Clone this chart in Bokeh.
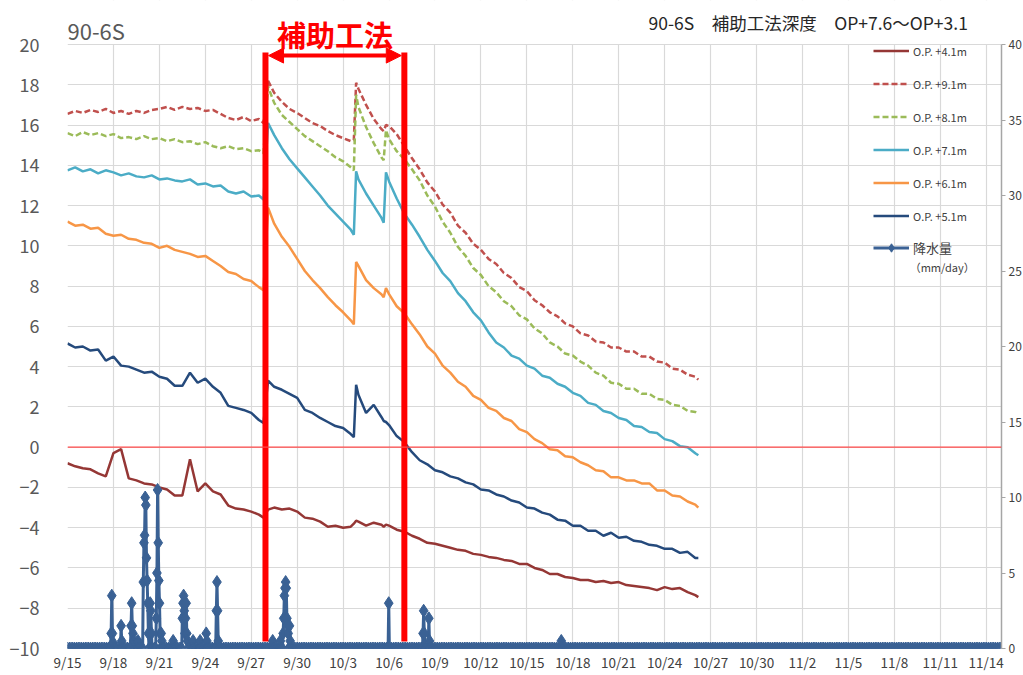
import numpy as np
from bokeh.plotting import figure
from bokeh.models import (Range1d, LinearAxis, FixedTicker, Span, Label, Legend,
                          LegendItem, Arrow, NormalHead)
from bokeh.embed import file_html
from bokeh.resources import INLINE

# ---------------- data (days since 9/15) ----------------
t = [0, 0.5, 1, 1.5, 2, 2.5, 3, 3.5, 4, 4.5, 5, 5.5, 6, 6.5, 7, 7.5, 8, 8.5, 9, 9.5, 10, 10.5, 11, 11.5, 12, 12.5,
     12.8, 13.1,
     13.5, 14, 14.5, 15, 15.5, 16, 16.5, 17, 17.5, 18, 18.5,
     18.7, 18.85, 19.0,
     19.5, 20, 20.5,
     20.65, 20.8, 21.0,
     21.5, 22,
     22.5, 23, 23.5, 24, 24.5, 25, 25.5, 26, 26.5, 27, 27.5, 28, 28.5, 29, 29.5, 30, 30.5, 31, 31.5, 32,
     32.5, 33, 33.5, 34, 34.5, 35, 35.5, 36, 36.5, 37, 37.5, 38, 38.5, 39, 39.5, 40, 40.5, 41,
     41.2]

s91 = [16.55, 16.7, 16.6, 16.75, 16.65, 16.8, 16.6, 16.7, 16.55, 16.7, 16.6, 16.75, 16.8, 16.9, 16.75, 16.9,
       16.8, 16.85, 16.7, 16.75, 16.55, 16.35, 16.25, 16.4, 16.2, 16.3,
       16.1, 18.2,
       17.6, 17.15, 16.8, 16.6, 16.35, 16.1, 15.95, 15.7, 15.5, 15.35, 15.2,
       15.25, 18.1, 17.8,
       17.0, 16.3, 15.8,
       15.7, 16.0, 15.95,
       15.55, 14.95,
       14.35, 13.8, 13.15, 12.7, 12.05, 11.65, 11.0, 10.65, 10.1, 9.8, 9.35, 9.1, 8.65, 8.4, 7.95, 7.75,
       7.3, 7.05, 6.7, 6.5, 6.15, 6.0, 5.65, 5.55, 5.25, 5.2, 4.95, 4.95, 4.75, 4.75, 4.5, 4.5, 4.25, 4.2,
       3.9, 3.85, 3.6, 3.5,
       3.35]

s81 = [15.6, 15.45, 15.65, 15.5, 15.6, 15.45, 15.55, 15.35, 15.4, 15.3, 15.45, 15.3, 15.35, 15.2, 15.3, 15.15,
       15.2, 15.05, 15.15, 14.95, 14.85, 14.95, 14.8, 14.85, 14.7, 14.75,
       14.6, 17.9,
       17.1, 16.5, 16.15, 15.8, 15.45, 15.2, 14.95, 14.7, 14.4, 14.2, 13.9,
       13.75, 17.5, 16.9,
       15.9, 15.1, 14.4,
       14.25, 15.75, 15.3,
       14.7, 14.3,
       13.8, 13.25, 12.5, 11.95, 11.2, 10.65, 9.95, 9.5, 8.9, 8.55, 8.0, 7.7, 7.25, 7.0, 6.55, 6.35,
       5.9, 5.65, 5.2, 5.0, 4.65, 4.55, 4.25, 4.05, 3.7, 3.55, 3.2, 3.15, 2.9, 2.9, 2.65, 2.65, 2.4, 2.35,
       2.1, 2.05, 1.8, 1.75,
       1.65]

s71 = [13.75, 13.9, 13.7, 13.8, 13.6, 13.75, 13.65, 13.5, 13.6, 13.45, 13.4, 13.5, 13.3, 13.35, 13.25, 13.2,
       13.3, 13.05, 13.1, 12.95, 13.0, 12.7, 12.6, 12.7, 12.45, 12.5,
       12.3, 16.1,
       15.5, 14.85, 14.3, 13.85, 13.4, 12.95, 12.5, 12.0, 11.6, 11.2, 10.8,
       10.55, 13.7, 13.3,
       12.6, 12.0, 11.4,
       11.15, 13.65, 13.2,
       12.35, 11.6,
       11.05, 10.45, 9.8, 9.25, 8.65, 8.25, 7.65, 7.25, 6.7, 6.3, 5.7, 5.2, 4.95, 4.55, 4.4, 4.05,
       3.9, 3.55, 3.45, 3.15, 3.0, 2.7, 2.55, 2.2, 2.1, 1.8, 1.7, 1.45, 1.35, 1.05, 1.0, 0.75, 0.7, 0.4,
       0.3, 0.05, 0.0, -0.3,
       -0.4]

s61 = [11.2, 11.0, 11.05, 10.85, 10.9, 10.6, 10.5, 10.55, 10.35, 10.3, 10.15, 10.1, 9.9, 10.0, 9.8, 9.7,
       9.6, 9.45, 9.5, 9.25, 9.0, 8.7, 8.6, 8.35, 8.25, 7.95,
       7.8, 11.9,
       11.1, 10.45, 9.95, 9.35, 8.75, 8.3, 7.9, 7.45, 7.05, 6.7, 6.3,
       6.1, 9.2, 9.0,
       8.3, 7.9, 7.6,
       7.45, 7.9, 7.6,
       7.0, 6.65,
       6.1, 5.6, 5.0, 4.65, 4.05, 3.7, 3.25, 3.0, 2.55, 2.35, 1.95, 1.8, 1.45, 1.3, 0.9, 0.75,
       0.4, 0.2, -0.1, -0.15, -0.45, -0.5, -0.75, -0.9, -1.15, -1.2, -1.5, -1.5, -1.65, -1.65, -1.8, -1.8,
       -2.15, -2.15, -2.4, -2.45, -2.7, -2.85,
       -3.0]

s51 = [5.15, 4.95, 5.0, 4.8, 4.85, 4.3, 4.5, 4.05, 4.0, 3.85, 3.7, 3.75, 3.5, 3.4, 3.05, 3.05,
       3.7, 3.2, 3.4, 3.0, 2.7, 2.05, 1.95, 1.85, 1.7, 1.35,
       1.2, 3.3,
       3.0, 2.85, 2.65, 2.45, 1.85, 1.7, 1.45, 1.25, 1.05, 0.95, 0.65,
       0.5, 3.1, 2.6,
       1.7, 2.1, 1.5,
       1.3, 1.25, 1.1,
       0.55, 0.25,
       -0.25, -0.65, -0.85, -1.15, -1.25, -1.45, -1.55, -1.75, -1.85, -2.1, -2.15, -2.35, -2.45, -2.65,
       -2.75, -3.0, -3.05, -3.25, -3.35, -3.6, -3.65, -3.9, -3.9, -4.15, -4.15, -4.4, -4.25, -4.5, -4.45,
       -4.65, -4.7, -4.85, -4.9, -5.05, -5.05, -5.25, -5.2, -5.5,
       -5.5]

s41 = [-0.8, -0.95, -1.05, -1.1, -1.3, -1.45, -0.3, -0.1, -1.55, -1.65, -1.8, -1.85, -2.0, -2.1, -2.4, -2.4,
       -0.6, -2.2, -1.8, -2.2, -2.35, -2.9, -3.05, -3.1, -3.2, -3.35,
       -3.5, -3.1,
       -3.0, -3.1, -3.05, -3.2, -3.5, -3.55, -3.7, -3.95, -3.9, -4.0, -3.95,
       -3.8, -3.65, -3.7,
       -3.9, -3.75, -3.85,
       -3.95, -3.85, -3.9,
       -4.1, -4.2,
       -4.4, -4.55, -4.75, -4.8, -4.9, -5.0, -5.1, -5.15, -5.3, -5.35, -5.45, -5.5, -5.6, -5.65, -5.8, -5.8,
       -6.0, -6.1, -6.3, -6.3, -6.45, -6.5, -6.6, -6.6, -6.7, -6.65, -6.75, -6.7, -6.85, -6.9, -6.95, -7.0,
       -7.1, -6.95, -7.05, -7.0, -7.2, -7.35,
       -7.45]

# rainfall (mm/day): start day of each rain event, hourly values within it
rain_event_start = [2.85, 3.5, 4.15, 4.6, 4.95, 5.4, 5.8, 6.12, 6.9, 7.5, 8.2, 8.66, 9.06, 9.72,
                    13.4, 13.9, 14.08, 14.5, 20.98, 23.22, 23.6, 32.25]
rain_event_mm = [[1.0, 3.5, 1.0, 0.4], [1.5, 0.5], [1.5, 3.0, 1.5, 1.0, 0.5], [0.5],
                 [4.4, 7.0, 7.5, 10.0, 9.5, 6.0, 4.5, 3.0, 1.0], [3.0, 2.5, 1.0],
                 [2.0, 5.0, 10.5, 7.0, 4.5, 3.0, 1.0], [1.0, 0.5], [0.5],
                 [2.0, 3.0, 3.5, 2.5, 1.0, 2.0, 3.0, 1.0, 0.5], [0.5], [0.5], [1.0, 0.5],
                 [2.5, 4.4, 2.5, 0.5], [0.5], [0.5], [1.0, 2.0, 3.5, 4.0, 4.4, 4.0, 2.0, 1.5, 1.0],
                 [1.5, 0.5], [3.0], [1.0, 2.5, 1.0], [2.0, 0.5], [0.5]]
rain_days_total = 61.0  # rain recorded (0 mm) through 11/15

date_labels = ["9/15", "9/18", "9/21", "9/24", "9/27", "9/30", "10/3", "10/6", "10/9", "10/12", "10/15",
               "10/18", "10/21", "10/24", "10/27", "10/30", "11/2", "11/5", "11/8", "11/11", "11/14"]
tick_days = list(range(0, 61, 3))

method_period = [12.93, 22.0]   # 補助工法 start / end (days since 9/15)

# ---------------- build rain series ----------------
hr = 1.0 / 24.0
ev_t, ev_v, busy = [], [], []
for t0, vals in zip(rain_event_start, rain_event_mm):
    ts = [t0 + k * hr for k in range(len(vals))]
    ev_t += [t0 - hr] + ts + [ts[-1] + hr]
    ev_v += [0.0] + vals + [0.0]
    busy.append((t0 - hr * 1.5, ts[-1] + hr * 1.5))
zero_t = [z for z in np.arange(0, rain_days_total + 0.001, 0.15)
          if not any(a <= z <= b for a, b in busy)]
rain_t = np.array(ev_t + zero_t)
rain_v = np.array(ev_v + [0.0] * len(zero_t))
order = np.argsort(rain_t, kind="stable")
rain_t, rain_v = rain_t[order], rain_v[order]

# ---------------- figure ----------------
# frame spans the whole height so that the headings above the plot area stay visible
Y_LO, Y_HI = -10, 20
PLOT_TOP = Y_HI + 44 / (604 / 30)
R_TOP = 40 + 44 / (604 / 40)
FONT = "Noto Sans CJK JP"
p = figure(frame_width=934, frame_height=648, x_range=Range1d(0, 61), y_range=Range1d(Y_LO, PLOT_TOP),
           output_backend="svg", toolbar_location=None,
           min_border_left=67, min_border_top=0, min_border_right=0, min_border_bottom=0,
           background_fill_color="white", border_fill_color="white")
p.outline_line_color = None
p.extra_y_ranges = {"rain": Range1d(0, R_TOP)}

p.xaxis.ticker = FixedTicker(ticks=tick_days)
p.xaxis.major_label_overrides = {d: lab for d, lab in zip(tick_days, date_labels)}
p.xaxis.axis_line_color = None
p.xaxis.major_tick_line_color = None
p.xaxis.minor_tick_line_color = None
p.xaxis.major_tick_out = 0
p.xaxis.major_label_standoff = 3
p.xaxis.major_label_text_font = FONT
p.xaxis.major_label_text_font_size = "13.5px"
p.xaxis.major_label_text_color = "#404040"

p.yaxis.ticker = FixedTicker(ticks=list(range(-10, 21, 2)))
p.yaxis.axis_line_color = None
p.yaxis.major_tick_line_color = None
p.yaxis.minor_tick_line_color = None
p.yaxis.major_label_standoff = 22
p.yaxis.major_label_text_font = FONT
p.yaxis.major_label_text_font_size = "18px"
p.yaxis.major_label_text_color = "#595959"

p.xgrid.ticker = FixedTicker(ticks=tick_days)
p.ygrid.ticker = FixedTicker(ticks=list(range(-10, 21, 2)))
p.xgrid.grid_line_color = "#D9D9D9"
p.ygrid.grid_line_color = "#D9D9D9"
p.xgrid.grid_line_width = 1.2
p.ygrid.grid_line_width = 1.2

raxis = LinearAxis(y_range_name="rain", ticker=FixedTicker(ticks=list(range(0, 41, 5))), bounds=(0, 40))
raxis.axis_line_color = "#A6A6A6"
raxis.axis_line_width = 1.5
raxis.major_tick_line_color = "#A6A6A6"
raxis.major_tick_out = 4
raxis.major_tick_in = 0
raxis.minor_tick_line_color = None
raxis.major_label_standoff = 3
raxis.major_label_text_font = FONT
raxis.major_label_text_font_size = "12px"
raxis.major_label_text_color = "#404040"
p.add_layout(raxis, "right")

# white band above the plot area (hides grid lines in the heading strip)
p.quad(left=[0], right=[61], bottom=[Y_HI + 0.03], top=[PLOT_TOP], fill_color="white", line_color=None)

p.add_layout(Span(location=0, dimension="width", line_color="#FF4A4A", line_width=1.3))

# series
LW = 2.5
r91 = p.line(t, s91, line_color="#C0504D", line_width=LW, line_dash="6 3")
r81 = p.line(t, s81, line_color="#9BBB59", line_width=LW, line_dash="6 3")
r71 = p.line(t, s71, line_color="#4BACC6", line_width=LW)
r61 = p.line(t, s61, line_color="#F79646", line_width=LW)
r51 = p.line(t, s51, line_color="#254A7C", line_width=LW)
r41 = p.line(t, s41, line_color="#953735", line_width=LW)

RAIN = "#3A6194"
rl = p.line(rain_t, rain_v, line_color=RAIN, line_width=3, y_range_name="rain")
rs = p.scatter(rain_t, rain_v, marker="diamond", size=13, fill_color=RAIN, line_color=RAIN,
               y_range_name="rain")

# 補助工法 annotation
RED = "#FF0000"
p.segment(x0=method_period, y0=[-9.65, -9.65], x1=method_period, y1=[19.6, 19.6],
          line_color=RED, line_width=6)
p.add_layout(Arrow(x_start=method_period[0] + 0.2, y_start=19.45,
                   x_end=method_period[1] - 0.2, y_end=19.45,
                   line_color=RED, line_width=4,
                   start=NormalHead(size=15, fill_color=RED, line_color=RED),
                   end=NormalHead(size=15, fill_color=RED, line_color=RED)))
p.add_layout(Label(x=(method_period[0] + method_period[1]) / 2, y=20.5, text="補助工法",
                   text_align="center", text_baseline="middle", text_color=RED,
                   text_font=FONT, text_font_size="29px", text_font_style="bold"))

# titles
p.add_layout(Label(x=0.0, y=20.7, text="90-6S", text_baseline="middle", text_align="left",
                   text_font=FONT, text_font_size="22px", text_color="#595959"))
p.add_layout(Label(x=37.95, y=21.1, text="90-6S\u3000補助工法深度\u3000OP+7.6〜OP+3.1",
                   text_baseline="middle", text_align="left",
                   text_font=FONT, text_font_size="17.5px", text_color="#262626"))

# legends
common = dict(orientation="vertical", padding=0, margin=0, spacing=12, glyph_width=36,
              glyph_height=21, label_height=21, label_standoff=4, label_text_font=FONT,
              label_text_color="#404040", border_line_color=None, background_fill_alpha=0)
leg1 = Legend(items=[LegendItem(label="O.P. +4.1m", renderers=[r41]),
                     LegendItem(label="O.P. +9.1m", renderers=[r91]),
                     LegendItem(label="O.P. +8.1m", renderers=[r81]),
                     LegendItem(label="O.P. +7.1m", renderers=[r71]),
                     LegendItem(label="O.P. +6.1m", renderers=[r61]),
                     LegendItem(label="O.P. +5.1m", renderers=[r51])],
              location=(806, 422), label_text_font_size="11px", **common)
leg2 = Legend(items=[LegendItem(label="降水量", renderers=[rl, rs])],
              location=(806, 390), label_text_font_size="13px", **common)
p.add_layout(leg1)
p.add_layout(leg2)
p.add_layout(Label(x=55.0, y=8.95, text="（mm/day）", text_baseline="middle", text_align="left",
                   text_font=FONT, text_font_size="11px", text_color="#404040"))

html = file_html(p, INLINE)
html = html.replace("</head>", "<style>html,body{overflow:hidden;}</style></head>", 1)
open("out.html", "w").write(html)
